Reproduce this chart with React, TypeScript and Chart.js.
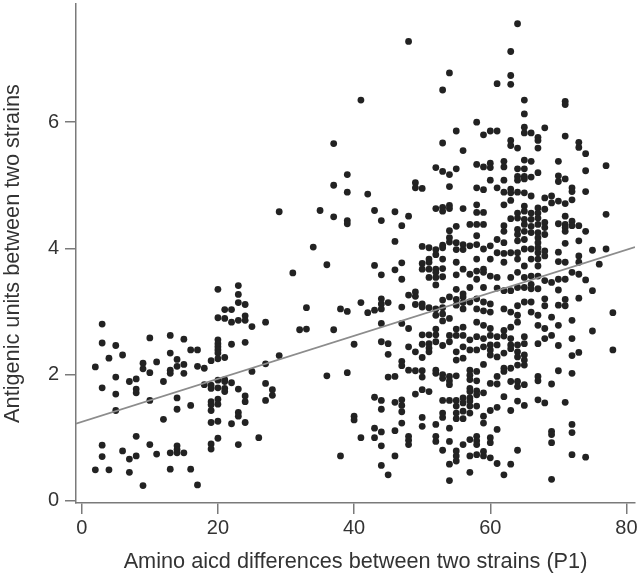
import React, { useEffect, useRef } from "react";
import { Chart, registerables } from "chart.js";

Chart.register(...registerables);

// Amino acid differences (x, integer columns)
const aminoDiffs = [
  2, 3, 4, 5, 6, 7, 8, 9, 10, 11, 12, 13, 14, 15, 16, 17, 18, 19, 20, 21,
  22, 23, 24, 25, 26, 27, 28, 29, 31, 32, 33, 34, 35, 36, 37, 38, 39, 40, 41, 42,
  43, 44, 45, 46, 47, 48, 49, 50, 51, 52, 53, 54, 55, 56, 57, 58, 59, 60, 61, 62,
  63, 64, 65, 66, 67, 68, 69, 70, 71, 72, 73, 74, 75, 76, 77, 78,
];

// Antigenic units for each x column above
const antigenicUnits: number[][] = [
  [2.12, 0.49],
  [2.8, 2.5, 1.79, 0.88, 0.7],
  [2.26, 0.49],
  [2.46, 1.96, 1.69, 1.43],
  [2.31, 0.79],
  [1.89, 0.66, 0.45],
  [1.93, 1.77, 1.71, 1.02, 0.71],
  [2.18, 2.09, 0.24],
  [2.58, 2.03, 1.59, 0.89],
  [2.2, 0.74],
  [1.89, 1.29],
  [2.62, 2.34, 2.07, 2.02, 0.76, 0.5],
  [2.24, 2.13, 1.63, 1.45, 0.87, 0.81, 0.76],
  [2.56, 2.16, 2.02, 0.76],
  [2.39, 1.51, 0.5],
  [2.39, 2.13, 0.25],
  [2.1, 1.84],
  [2.22, 1.83, 1.78, 1.57, 1.52, 1.43, 1.24, 0.9, 0.82],
  [3.35, 2.9, 2.55, 2.49, 2.44, 2.39, 2.34, 2.25, 1.91, 1.79, 1.61, 1.53, 1.26, 0.99],
  [3.03, 2.89, 2.27, 1.92, 1.89, 1.78, 1.73],
  [3.03, 2.83, 2.48, 1.87, 1.22],
  [3.41, 3.27, 3.14, 2.86, 1.77, 1.4, 1.34, 0.89],
  [3.11, 2.93, 2.86, 2.51, 1.66, 1.57, 1.24],
  [2.76, 2.05],
  [1.0],
  [2.83, 2.17, 1.86, 1.59],
  [1.76, 1.67],
  [4.58, 2.3],
  [3.61],
  [2.71],
  [3.06, 2.72],
  [4.02],
  [4.6],
  [3.74, 1.98],
  [5.66, 5.0, 4.5, 2.71],
  [3.04, 0.71],
  [5.17, 4.89, 4.44, 4.39, 3.0, 2.03],
  [2.48, 1.34, 1.28],
  [6.35, 3.14, 1.0],
  [4.86, 2.98],
  [4.6, 3.73, 3.02, 1.64, 1.15, 1.0],
  [4.44, 3.58, 3.2, 3.12, 3.04, 2.81, 2.52, 1.59, 1.45, 1.09, 0.87, 0.56],
  [3.14, 2.49, 2.32, 1.96, 0.41],
  [4.58, 4.11, 3.66, 1.97, 1.56, 1.11, 0.71],
  [4.36, 3.77, 3.51, 3.07, 2.81, 2.21, 2.14, 1.6, 1.51, 1.41, 1.23],
  [7.28, 4.51, 3.26, 2.73, 2.44, 2.07, 1.02, 0.96, 0.89],
  [5.04, 4.96, 3.31, 3.24, 3.11, 2.36, 2.06, 1.69],
  [4.95, 4.03, 3.76, 3.67, 3.12, 3.07, 2.63, 2.48, 2.27, 2.06, 1.96, 1.76, 1.32, 1.18],
  [4.01, 3.83, 3.78, 3.67, 3.54, 3.06, 2.63, 2.49, 2.42, 2.36, 1.73],
  [5.28, 4.63, 3.98, 3.9, 3.67, 3.62, 3.54, 3.42, 3.04, 2.94, 2.72, 2.63, 2.52, 2.07, 2.02, 1.21, 1.02, 0.94],
  [6.51, 5.67, 5.22, 4.65, 4.59, 4.05, 4.01, 3.83, 3.68, 3.55, 3.18, 3.06, 2.96, 2.85, 2.46, 2.0, 1.94, 1.59, 1.39, 1.32, 0.8],
  [6.78, 5.17, 4.98, 4.68, 4.63, 4.28, 4.17, 4.1, 3.23, 2.89, 2.62, 2.52, 1.97, 1.9, 1.84, 1.59, 1.15, 0.94, 0.58, 0.32],
  [5.86, 5.26, 4.35, 4.09, 3.98, 3.78, 3.58, 3.35, 3.19, 3.1, 2.72, 2.62, 2.36, 2.23, 1.98, 1.59, 1.5, 1.39, 1.3, 0.79, 0.71, 0.63],
  [5.55, 4.63, 4.06, 3.98, 3.67, 3.28, 3.23, 3.14, 3.04, 2.75, 2.62, 2.44, 2.26, 1.63, 1.55, 1.42, 1.3, 0.89],
  [4.38, 4.04, 3.59, 3.38, 3.15, 2.55, 2.39, 2.07, 1.99, 1.92, 1.78, 1.73, 1.63, 1.58, 1.5, 1.39, 0.97, 0.71, 0.45],
  [6.0, 5.33, 4.96, 4.69, 4.57, 4.38, 4.2, 4.06, 3.83, 3.64, 3.51, 3.2, 3.04, 2.83, 2.6, 2.39, 2.05, 1.9, 1.74, 1.68, 1.5, 1.02, 0.95, 0.89, 0.73],
  [5.8, 5.29, 4.93, 4.57, 4.38, 3.99, 3.67, 3.62, 3.38, 3.15, 3.01, 2.78, 2.57, 2.44, 2.16, 1.71, 1.34, 1.23, 0.78, 0.71],
  [5.86, 5.35, 5.28, 5.08, 4.04, 3.83, 3.56, 3.12, 2.99, 2.73, 2.62, 2.47, 2.39, 2.31, 1.86, 1.43, 1.0, 0.92, 0.68],
  [6.61, 5.86, 4.96, 4.14, 3.93, 3.54, 3.37, 2.6, 2.47, 2.28, 1.97, 1.85, 1.48, 1.13, 0.59],
  [5.38, 5.29, 5.08, 4.89, 4.69, 4.36, 4.27, 4.09, 3.92, 3.78, 3.33, 3.04, 2.7, 2.61, 2.34, 2.1, 2.05, 1.65, 0.41],
  [7.12, 6.74, 6.6, 5.71, 5.63, 4.94, 4.88, 4.76, 4.47, 3.93, 3.54, 3.33, 2.99, 2.75, 2.57, 2.47, 2.41, 2.1, 1.89, 1.43, 0.58],
  [7.56, 5.59, 5.26, 5.14, 5.08, 4.89, 4.56, 4.48, 4.3, 4.22, 4.12, 3.93, 3.83, 3.62, 3.38, 3.09, 2.94, 2.83, 2.47, 2.36, 2.28, 2.15, 1.89, 1.81, 1.58, 0.8],
  [6.35, 6.13, 5.92, 5.83, 5.4, 5.26, 5.14, 5.1, 4.88, 4.67, 4.59, 4.46, 4.38, 4.27, 4.14, 3.99, 3.72, 3.54, 3.38, 3.15, 2.6, 2.49, 2.31, 2.23, 2.15, 1.84, 1.51],
  [5.83, 5.38, 5.13, 4.83, 4.56, 4.46, 4.35, 4.25, 3.99, 3.83, 3.56, 3.43, 3.36, 3.15, 2.99],
  [5.76, 5.71, 5.59, 5.2, 4.64, 4.56, 4.48, 4.38, 4.25, 4.17, 4.09, 4.01, 3.93, 3.83, 3.72, 3.56, 3.36, 2.94, 2.78, 2.49, 1.97, 1.9, 1.6],
  [5.91, 4.8, 4.62, 4.41, 4.33, 4.22, 3.96, 3.88, 3.49, 3.2, 3.09, 2.73, 2.57, 1.55],
  [4.83, 4.72, 3.46, 2.91, 2.62, 1.85, 1.1, 1.05, 0.92, 0.34],
  [5.38, 5.15, 5.06, 4.75, 4.39, 3.94, 3.79, 3.51, 3.34, 3.1, 2.78, 2.46, 2.06],
  [6.33, 6.28, 5.78, 5.1, 4.71, 4.51, 4.38, 4.33, 4.27, 4.08, 3.78, 3.51, 3.19, 3.09, 1.56],
  [4.96, 4.9, 4.77, 4.43, 4.36, 3.62, 2.86, 2.57, 2.3, 2.02, 1.21, 1.08, 0.73],
  [5.68, 5.6, 4.36, 4.12, 3.88, 3.78, 3.59, 3.21, 2.35],
  [5.5, 5.23, 4.9, 4.27, 3.5, 0.69],
  [3.97, 3.33, 2.69],
  [3.75],
  [5.31, 4.54, 3.99],
  [2.98, 2.39],
];

// Linear fit
const fitIntercept = 1.25;
const fitSlope = 0.0341;

const xTicks = [0, 20, 40, 60, 80];
const yTicks = [0, 2, 4, 6];
const X_MIN = -0.84;
const X_MAX = 81.25;
const Y_MIN = -0.036;
const Y_MAX = 7.873;

export default function App() {
  const ref = useRef<HTMLCanvasElement | null>(null);

  useEffect(() => {
    if (!ref.current) return;
    const points = aminoDiffs.flatMap((x, i) =>
      antigenicUnits[i].map((y) => ({ x, y }))
    );
    const fitLine = [X_MIN, X_MAX].map((x) => ({ x, y: fitIntercept + fitSlope * x }));
    const textColor = "#333";
    const axisColor = "#7a7a7a";
    const chart = new Chart(ref.current, {
      type: "scatter",
      data: {
        datasets: [
          {
            type: "line",
            data: fitLine,
            borderColor: "#8c8c8c",
            borderWidth: 1.6,
            pointRadius: 0,
            fill: false,
            order: 0,
          } as any,
          {
            data: points,
            backgroundColor: "#222",
            borderWidth: 0,
            pointRadius: 3.4,
            order: 1,
          },
        ],
      },
      options: {
        animation: false,
        responsive: false,
        devicePixelRatio: 1,
        layout: { padding: { top: 0, right: 5, left: 0, bottom: 0 } },
        plugins: { legend: { display: false }, tooltip: { enabled: false } },
        scales: {
          x: {
            type: "linear",
            min: X_MIN,
            max: X_MAX,
            afterFit: (s: any) => {
              s.height = 77;
              s.paddingLeft = 0;
              s.paddingRight = 0;
            },
            afterBuildTicks: (s: any) => {
              s.ticks = xTicks.map((v) => ({ value: v }));
            },
            border: { display: true, color: axisColor, width: 1.5 },
            grid: {
              display: true,
              drawOnChartArea: false,
              drawTicks: true,
              tickLength: 11,
              color: axisColor,
              lineWidth: 1.5,
            },
            ticks: {
              color: textColor,
              padding: 2,
              font: { family: "'Liberation Sans', Arial, sans-serif", size: 20 },
            },
            title: {
              display: true,
              text: "Amino aicd differences between two strains (P1)",
              color: textColor,
              padding: { top: 0, bottom: 5 },
              font: { family: "'Liberation Sans', Arial, sans-serif", size: 21.7 },
            },
          },
          y: {
            type: "linear",
            min: Y_MIN,
            max: Y_MAX,
            afterFit: (s: any) => {
              s.width = 76;
              s.paddingTop = 0;
              s.paddingBottom = 0;
            },
            afterBuildTicks: (s: any) => {
              s.ticks = yTicks.map((v) => ({ value: v }));
            },
            border: { display: true, color: axisColor, width: 1.5 },
            grid: {
              display: true,
              drawOnChartArea: false,
              drawTicks: true,
              tickLength: 11,
              color: axisColor,
              lineWidth: 1.5,
            },
            ticks: {
              color: textColor,
              padding: 6,
              font: { family: "'Liberation Sans', Arial, sans-serif", size: 20 },
            },
            title: {
              display: true,
              text: "Antigenic units between two strains",
              color: textColor,
              padding: { top: 0, bottom: 0 },
              font: { family: "'Liberation Sans', Arial, sans-serif", size: 21.7 },
            },
          },
        },
      },
    });
    return () => chart.destroy();
  }, []);

  return (
    <div style={{ position: "absolute", left: 0, top: 0, width: 640, height: 580, background: "#fff" }}>
      <canvas ref={ref} width={640} height={580} />
    </div>
  );
}
